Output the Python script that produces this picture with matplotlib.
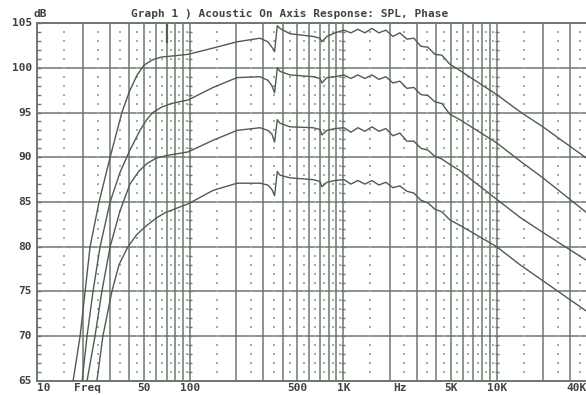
import matplotlib.pyplot as plt
from matplotlib.ticker import MultipleLocator, NullLocator

# shared frequency grid above 100 Hz (Hz)
freq_hi = [97, 141, 202, 285, 321, 341, 355, 370, 385, 447, 632, 702, 723, 779, 880,
           1006, 1118, 1241, 1379, 1532, 1702, 1891, 2100, 2333, 2592, 2879, 3198,
           3553, 3947, 4384, 4945, 5745, 10000, 14150, 20000, 40000]

spl_a_hi = [101.5, 102.2, 102.9, 103.3, 102.9, 102.3, 101.8, 104.7, 104.4, 103.8,
            103.5, 103.3, 102.9, 103.5, 103.9,
            104.2, 103.9, 104.3, 103.9, 104.4, 103.9, 104.2, 103.5, 103.9, 103.2,
            103.3, 102.4, 102.3, 101.5, 101.4, 100.4, 99.7,
            97.0, 95.1, 93.4, 89.7]
spl_b_hi = [96.4, 97.8, 98.9, 99.0, 98.6, 98.0, 97.2, 100.0, 99.6, 99.2,
            99.0, 98.8, 98.3, 98.9, 99.0,
            99.2, 98.8, 99.2, 98.8, 99.2, 98.7, 99.0, 98.3, 98.5, 97.7,
            97.8, 97.0, 96.9, 96.2, 96.0, 94.8, 94.2,
            91.6, 89.6, 87.7, 83.6]
spl_c_hi = [90.6, 91.9, 93.0, 93.3, 93.0, 92.6, 91.7, 94.2, 93.8, 93.4,
            93.3, 93.1, 92.5, 93.0, 93.2,
            93.3, 92.8, 93.3, 92.9, 93.4, 92.9, 93.2, 92.4, 92.7, 91.8,
            91.8, 91.0, 90.8, 90.1, 89.8, 89.2, 88.5,
            85.3, 83.3, 81.6, 78.3]
spl_d_hi = [84.8, 86.3, 87.1, 87.1, 86.9, 86.4, 85.7, 88.4, 88.0, 87.7,
            87.5, 87.3, 86.7, 87.2, 87.4,
            87.5, 87.0, 87.4, 87.0, 87.4, 86.9, 87.2, 86.6, 86.8, 86.2,
            86.0, 85.2, 84.9, 84.2, 83.9, 83.0, 82.4,
            80.0, 78.0, 76.2, 72.6]

# low frequency roll-off of each curve
freq_lo_a = [16.4, 17.2, 19.1, 20.6, 22.2, 25.4, 30, 35.8, 40, 45, 50, 57, 65, 75]
spl_a_lo = [62.5, 65, 70, 75, 80, 85, 90, 95, 97.3, 99.2, 100.3, 100.9, 101.2, 101.3]
freq_lo_b = [18.8, 19.7, 21.2, 23.2, 25.8, 30, 34.8, 40.4, 47, 52, 57, 65, 75]
spl_b_lo = [62.5, 65, 70, 75, 80, 85, 88.3, 90.8, 93.0, 94.2, 95.0, 95.6, 96.0]
freq_lo_c = [20.2, 21.2, 23.9, 26.5, 30, 34.8, 40.4, 46, 52.2, 60, 70.5]
spl_c_lo = [62.5, 65, 70, 75, 80, 84, 87, 88.4, 89.3, 89.9, 90.2]
freq_lo_d = [23.5, 24.6, 26.9, 30.8, 34.3, 39.2, 45, 52.2, 60, 68.4]
spl_d_lo = [62.5, 65, 70, 75, 78, 80, 81.4, 82.4, 83.2, 83.8]

y_ticks = [65, 70, 75, 80, 85, 90, 95, 100, 105]
x_labels = [(10, "10"), (21.5, "Freq"), (50, "50"), (100, "100"), (500, "500"),
            (1000, "1K"), (2350, "Hz"), (5000, "5K"), (10000, "10K"), (40000, "40K")]

ink = "#4f5c4f"
grid_col = "#6d796d"
txt_col = "#3b463b"
font = dict(family="DejaVu Sans Mono", weight="bold", size=8, color=txt_col)

fig = plt.figure(figsize=(5.86, 3.95), dpi=100)
ax = fig.add_axes([37 / 586, 14 / 395, 552 / 586, 358 / 395])
ax.set_xscale("log")
ax.set_xlim(10, 40000)
ax.set_ylim(65, 105)

# grid: solid lines at 1..9 x decade, dotted columns in between
major_x = [n * 10 ** k for k in range(1, 5) for n in range(1, 10) if n * 10 ** k <= 40000]
mid_x = [(n + 0.5) * 10 ** k for k in range(1, 5) for n in range(1, 10) if (n + 0.5) * 10 ** k < 40000]
ax.vlines(major_x, 65, 105, color=grid_col, lw=1.1, zorder=1)
ax.hlines(y_ticks, 10, 40000, color=grid_col, lw=1.1, zorder=1)
dots_x = [x for x in mid_x for _ in range(66, 105)]
dots_y = [y for _ in mid_x for y in range(66, 105)]
ax.scatter(dots_x, dots_y, s=0.6, color="#a3ada3", marker="s", lw=0, zorder=1)
cross_x = [x for x in (100, 1000, 10000) for _ in range(66, 105)]
cross_y = [y for _ in (100, 1000, 10000) for y in range(66, 105)]
ax.scatter(cross_x, cross_y, s=12, color=grid_col, marker="_", lw=1.0, zorder=1)

for f_lo, s_lo, s_hi in [(freq_lo_a, spl_a_lo, spl_a_hi), (freq_lo_b, spl_b_lo, spl_b_hi),
                         (freq_lo_c, spl_c_lo, spl_c_hi), (freq_lo_d, spl_d_lo, spl_d_hi)]:
    ax.plot(f_lo + freq_hi, s_lo + s_hi, color=ink, lw=1.0, zorder=3)

# cursor mark near 70 Hz
ax.plot([70.5, 70.5], [104.8, 102.9], color=ink, lw=1.6, zorder=3)

for s in ax.spines.values():
    s.set_color(grid_col)
    s.set_linewidth(1.4)
ax.xaxis.set_major_locator(NullLocator())
ax.xaxis.set_minor_locator(NullLocator())
ax.set_yticks(y_ticks)
ax.set_yticklabels([])
ax.yaxis.set_minor_locator(MultipleLocator(1))
ax.tick_params(axis="y", which="both", direction="in", length=3, width=1, color=grid_col)

for v in y_ticks:
    ax.text(-0.009, v, str(v), transform=ax.get_yaxis_transform(), ha="right", va="center", **font)
for f, lab in x_labels:
    ha = "left" if f == 10 else ("right" if f == 40000 else "center")
    x = 38500 if f == 40000 else f
    ax.text(x, -0.02, lab, transform=ax.get_xaxis_transform(), ha=ha, va="center", **font)

fig.text(33 / 586, 1 - 14 / 395, "dB", ha="left", va="center", **font)
fig.text(290 / 586, 1 - 14 / 395, "Graph 1 ) Acoustic On Axis Response: SPL, Phase",
         ha="center", va="center", **font)

fig.savefig("out.png", dpi=100)
